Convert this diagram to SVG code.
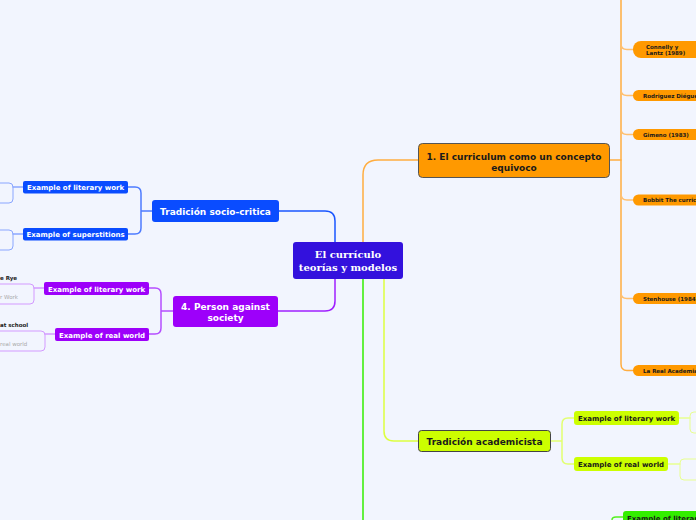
<svg xmlns="http://www.w3.org/2000/svg" width="696" height="520" viewBox="0 0 696 520">
<style>
.t{font-family:"DejaVu Sans",Verdana,sans-serif;font-weight:bold}
.w{fill:#fff}
.k{fill:#1a1a1a}
.leaf{fill:#ff9900}
.c{fill:none;stroke-width:1.5;stroke-linecap:round}
</style>
<rect width="696" height="520" fill="#f2f5fe"/>
<g id="connectors">
<path class="c" stroke="#ffad40" stroke-width="2" d="M363,242 V175 Q363,160 378,160 H418"/>
<path class="c" stroke="#ffad40" d="M610,160 H621"/>
<path class="c" stroke="#ffad40" d="M621,0 V364 Q621,370.5 627,370.5 H633"/>
<path class="c" stroke="#ffc070" d="M621,44 Q621,49.5 627,49.5 H633 M621,90 Q621,95.5 627,95.5 H633 M621,129 Q621,134.5 627,134.5 H633 M621,194 Q621,200 627,200 H633 M621,293 Q621,298.5 627,298.5 H633"/>
<path class="c" stroke="#1a56ff" stroke-width="2" d="M335,242 V221 Q335,211 325,211 H279"/>
<path class="c" stroke="#4d7bff" d="M152,211 H141 M128,187 H135 Q141,187 141,193 V228 Q141,234 135,234 H128"/>
<path class="c" stroke="#8aa6ff" d="M23,187 H13 M23,234 H13"/>
<path class="c" stroke="#a020ff" stroke-width="2" d="M335,279 V301 Q335,311 325,311 H278"/>
<path class="c" stroke="#b54dff" d="M173,311 H161 M149,288 H155 Q161,288 161,294 V328 Q161,334 155,334 H149"/>
<path class="c" stroke="#d39aff" d="M44,288 H34 M55,334 H45"/>
<path class="c" stroke="#ddff40" stroke-width="2" d="M384,279 V431 Q384,441 394,441 H418"/>
<path class="c" stroke="#e2ff70" d="M550,441 H562 M574,418 H568 Q562,418 562,424 V458 Q562,464 568,464 H574"/>
<path class="c" stroke="#e8ff90" d="M679,418 H690 M668,464 H680"/>
<path class="c" stroke="#33ee00" stroke-width="2" d="M363,279 V520"/>
<path class="c" stroke="#55f020" d="M612,520 Q612,517 616,517 H623"/>
</g>
<g id="center">
<rect x="293" y="242" width="110" height="37" rx="3" fill="#3311dd"/>
<text x="348" y="258" text-anchor="middle" font-family="'DejaVu Serif',Georgia,serif" font-weight="bold" font-size="10" fill="#fff">El currículo</text>
<text x="348" y="271" text-anchor="middle" font-family="'DejaVu Serif',Georgia,serif" font-weight="bold" font-size="10" fill="#fff">teorías y modelos</text>
</g>
<g id="n1">
<rect x="418.5" y="143.5" width="191" height="34" rx="4" fill="#ff9900" stroke="#555"/>
<text class="t k" x="514" y="160" text-anchor="middle" font-size="9">1. El curriculum como un concepto</text>
<text class="t k" x="514" y="171" text-anchor="middle" font-size="9">equivoco</text>
</g>
<g id="leaf-connelly">
<rect class="leaf" x="633" y="41" width="80" height="17" rx="8"/>
<text class="t k" x="646" y="48.5" font-size="5.5">Connelly y</text>
<text class="t k" x="646" y="55" font-size="5.5">Lantz (1989)</text>
</g>
<g id="leaf-rodriguez">
<rect class="leaf" x="633" y="90" width="80" height="11" rx="5.5"/>
<text class="t k" x="643" y="97.5" font-size="5.5">Rodriguez Diégue</text>
</g>
<g id="leaf-gimeno">
<rect class="leaf" x="633" y="129" width="80" height="11" rx="5.5"/>
<text class="t k" x="643" y="136.5" font-size="5.5">Gimeno (1983)</text>
</g>
<g id="leaf-bobbit">
<rect class="leaf" x="633" y="194.5" width="80" height="11" rx="5.5"/>
<text class="t k" x="643" y="202" font-size="5.5">Bobbit The curric</text>
</g>
<g id="leaf-stenhouse">
<rect class="leaf" x="633" y="293" width="80" height="11" rx="5.5"/>
<text class="t k" x="643" y="300.5" font-size="5.5">Stenhouse (1984</text>
</g>
<g id="leaf-rae">
<rect class="leaf" x="633" y="365" width="80" height="11" rx="5.5"/>
<text class="t k" x="643" y="372.5" font-size="5.5">La Real Academia</text>
</g>
<g id="socio">
<rect x="152" y="200" width="127" height="22" rx="3" fill="#0a4cff"/>
<text class="t w" x="215.5" y="214.5" text-anchor="middle" font-size="9">Tradición socio-critica</text>
</g>
<g id="socio-lit">
<rect x="23" y="181" width="105" height="12.5" rx="2" fill="#0a4cff"/>
<text class="t w" x="75.5" y="190" text-anchor="middle" font-size="7">Example of literary work</text>
</g>
<g id="socio-sup">
<rect x="23" y="228" width="105" height="12.5" rx="2" fill="#0a4cff"/>
<text class="t w" x="75.5" y="237" text-anchor="middle" font-size="7">Example of superstitions</text>
</g>
<g id="socio-lit-box"><rect x="-30" y="183" width="43" height="20" rx="4" fill="none" stroke="#8aa6ff"/></g>
<g id="socio-sup-box"><rect x="-30" y="230" width="43" height="20" rx="4" fill="none" stroke="#8aa6ff"/></g>
<g id="n4">
<rect x="173" y="296" width="105" height="31" rx="3" fill="#9d00fa"/>
<text class="t w" x="225.5" y="309.5" text-anchor="middle" font-size="9">4. Person against</text>
<text class="t w" x="225.5" y="321" text-anchor="middle" font-size="9">society</text>
</g>
<g id="n4-lit">
<rect x="44" y="282" width="105" height="13" rx="2" fill="#9d00fa"/>
<text class="t w" x="96.5" y="291.5" text-anchor="middle" font-size="7">Example of literary work</text>
</g>
<g id="n4-real">
<rect x="55" y="328" width="94" height="13" rx="2" fill="#9d00fa"/>
<text class="t w" x="102" y="337.5" text-anchor="middle" font-size="7">Example of real world</text>
</g>
<g id="n4-lit-box">
<text class="t k" x="0" y="279.5" font-size="5.5">e Rye</text>
<rect x="-30" y="284" width="64" height="20" rx="4" fill="none" stroke="#d39aff"/>
<text x="0" y="299" font-family="'DejaVu Sans',sans-serif" font-size="5.5" fill="#aaa">r Work</text>
</g>
<g id="n4-real-box">
<text class="t k" x="0" y="326.5" font-size="5.5">at school</text>
<rect x="-30" y="331" width="75" height="20" rx="4" fill="none" stroke="#d39aff"/>
<text x="0" y="346" font-family="'DejaVu Sans',sans-serif" font-size="5.5" fill="#aaa">real world</text>
</g>
<g id="academ">
<rect x="418.5" y="430.5" width="132" height="21" rx="3" fill="#ccff00" stroke="#444"/>
<text class="t k" x="484.5" y="444.5" text-anchor="middle" font-size="9">Tradición academicista</text>
</g>
<g id="academ-lit">
<rect x="574" y="411" width="105" height="14" rx="3" fill="#ccff00"/>
<text class="t k" x="626.5" y="420.5" text-anchor="middle" font-size="7">Example of literary work</text>
</g>
<g id="academ-real">
<rect x="574" y="457" width="94" height="14" rx="3" fill="#ccff00"/>
<text class="t k" x="621" y="466.5" text-anchor="middle" font-size="7">Example of real world</text>
</g>
<g id="academ-lit-box"><rect x="690" y="412" width="30" height="21" rx="4" fill="none" stroke="#e8ff90"/></g>
<g id="academ-real-box"><rect x="680" y="459" width="40" height="21" rx="4" fill="none" stroke="#e8ff90"/></g>
<g id="green-lit">
<rect x="623" y="511" width="90" height="14" rx="3" fill="#33ee00"/>
<text class="t k" x="627" y="520.5" font-size="7">Example of literar</text>
</g>
</svg>
